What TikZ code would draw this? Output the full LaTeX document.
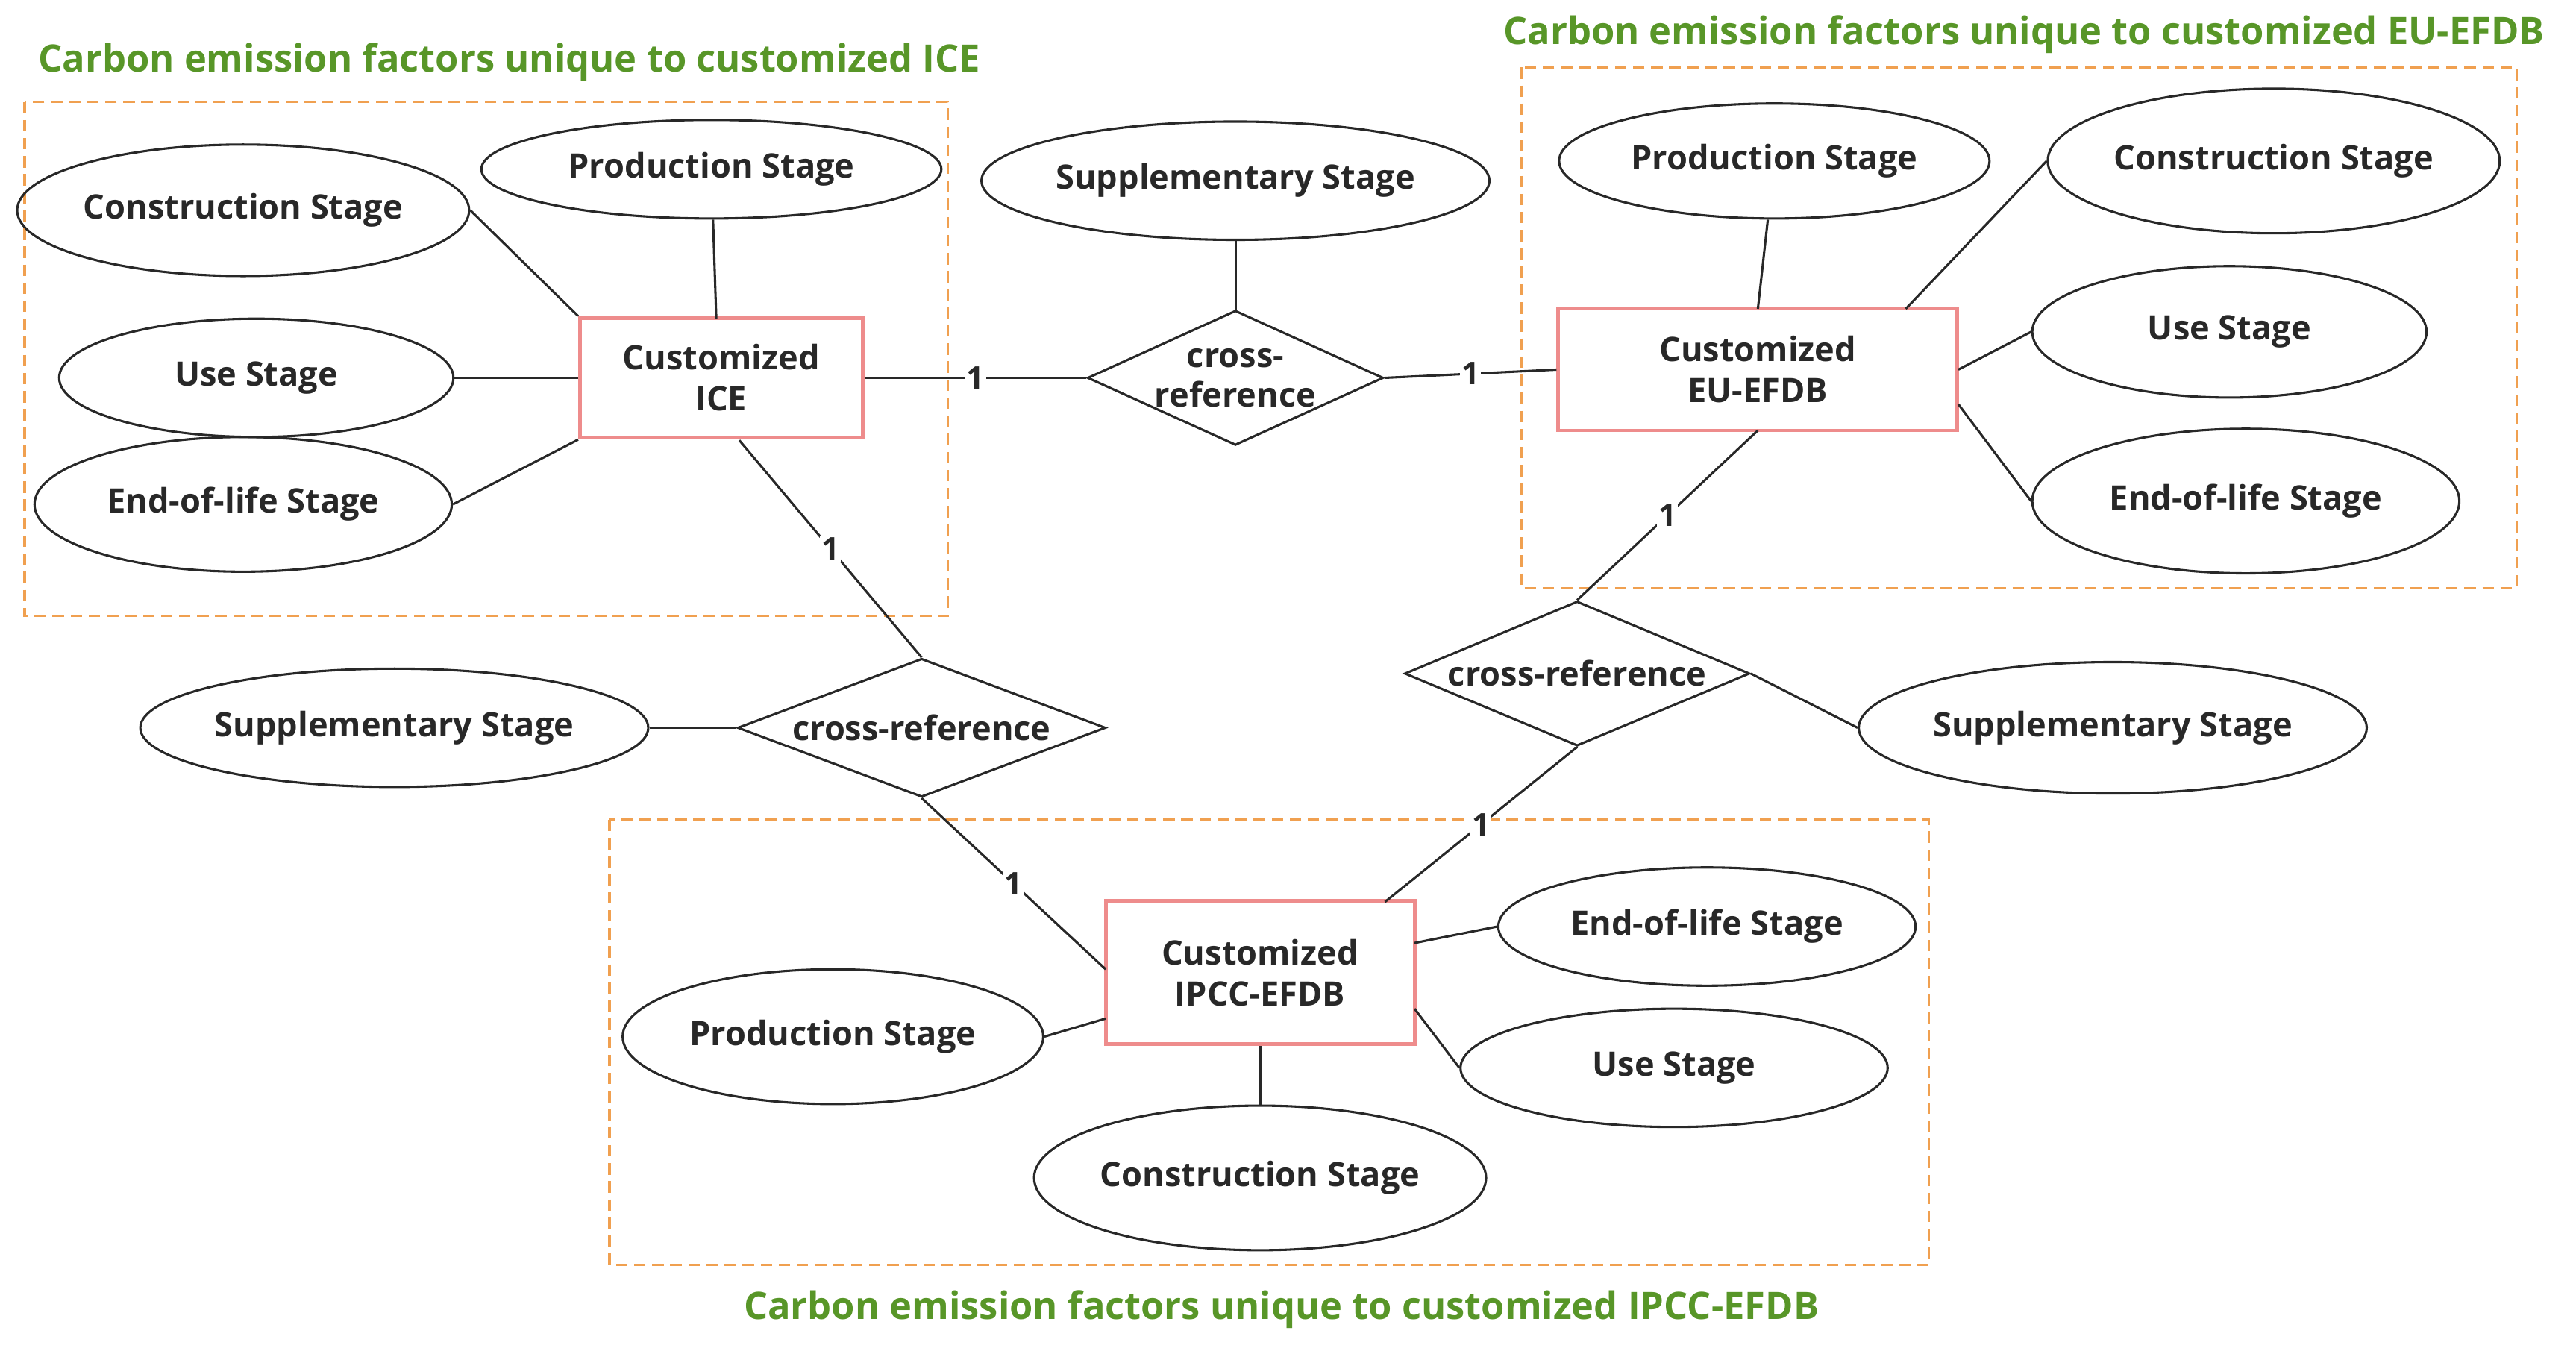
\documentclass[tikz,border=0pt]{standalone}
\usepackage{fontspec}
\setmainfont{Open Sans}
\usetikzlibrary{shapes.geometric}
\definecolor{grn}{RGB}{88,150,40}
\definecolor{org}{RGB}{240,160,80}
\definecolor{pnk}{RGB}{238,140,140}
\definecolor{ink}{RGB}{40,40,40}
\begin{document}
\begin{tikzpicture}[x=1pt,y=-1pt,
 el/.style={ellipse,draw=ink,line width=1.4pt,minimum width=#1,font=\fontsize{20.5}{22}\selectfont\bfseries,text=ink,inner sep=0pt},
 ent/.style={rectangle,draw=pnk,line width=2.2pt,minimum width=#1,font=\fontsize{20.5}{25}\selectfont\bfseries,text=ink,align=center,fill=white},
 dia/.style={diamond,aspect=2.3,draw=ink,line width=1.4pt,font=\fontsize{20.5}{24}\selectfont\bfseries,text=ink,align=center,inner sep=0pt},
 box/.style={draw=org,dashed,line width=1.4pt,dash pattern=on 7pt off 4pt},
 ttl/.style={text=grn,font=\fontsize{23}{26}\selectfont\bfseries},
 ln/.style={draw=ink,line width=1.4pt},
 one/.style={fill=white,inner sep=1pt,font=\fontsize{19}{20}\selectfont\bfseries,text=ink}]
\useasboundingbox (0,0) rectangle (1568,824);
\draw[box] (15,62) rectangle (577,375);
\draw[box] (926,41) rectangle (1532,358);
\draw[box] (371,499) rectangle (1174,770);
\node[ttl] (t1) at (310,38) {Carbon emission factors unique to customized ICE};
\node[ttl] (t2) at (1232,21) {Carbon emission factors unique to customized EU-EFDB};
\node[ttl] (t3) at (780,797) {Carbon emission factors unique to customized IPCC-EFDB};
% entities
\node[ent=172pt,minimum height=73pt] (ice) at (439,230) {Customized\\ICE};
\node[ent=243pt,minimum height=74pt] (eu) at (1070,225) {Customized\\EU-EFDB};
\node[ent=188pt,minimum height=87pt] (ip) at (767,592) {Customized\\IPCC-EFDB};
% ICE ellipses
\node[el=256pt,minimum height=80pt] (ic) at (148,128) {Construction Stage};
\node[el=280pt,minimum height=60pt] (ipr) at (433,103) {Production Stage};
\node[el=240pt,minimum height=72pt] (iu) at (156,230) {Use Stage};
\node[el=254pt,minimum height=82pt] (ie) at (148,307) {End-of-life Stage};
% EU ellipses
\node[el=262pt,minimum height=70pt] (epr) at (1080,98) {Production Stage};
\node[el=260pt,minimum height=88pt] (ec) at (1384,98) {Construction Stage};
\node[el=240pt,minimum height=80pt] (eus) at (1357,202) {Use Stage};
\node[el=260pt,minimum height=88pt] (ee) at (1367,305) {End-of-life Stage};
% IPCC ellipses
\node[el=254pt,minimum height=72pt] (pe) at (1039,564) {End-of-life Stage};
\node[el=260pt,minimum height=72pt] (pu) at (1019,650) {Use Stage};
\node[el=268pt,minimum height=88pt] (pc) at (767,717) {Construction Stage};
\node[el=256pt,minimum height=82pt] (pp) at (507,631) {Production Stage};
% supplementary
\node[el=280pt,minimum height=72pt] (s1) at (752,110) {Supplementary Stage};
\node[el=280pt,minimum height=80pt] (s2) at (1286,443) {Supplementary Stage};
\node[el=280pt,minimum height=72pt] (s3) at (240,443) {Supplementary Stage};
% diamonds
\node[dia,minimum width=170pt,minimum height=82pt] (d1) at (752,230) {cross-\\reference};
\node[dia,minimum width=210pt,minimum height=88pt] (d2) at (960,410) {cross-reference};
\node[dia,minimum width=224pt,minimum height=72pt] (d3) at (561,443) {cross-reference};
% ICE links
\draw[ln] (ic.east) -- (ice.north west);
\draw[ln] (ipr) -- (436,194);
\draw[ln] (iu) -- (ice.west);
\draw[ln] (ie.east) -- (ice.south west);
% EU links
\draw[ln] (epr) -- (1070,188);
\draw[ln] (ec.west) -- (1160,188);
\draw[ln] (eus.west) -- (1192,225);
\draw[ln] (ee.west) -- (1192,246);
% IPCC links
\draw[ln] (pe.west) -- (861,574);
\draw[ln] (pu.west) -- (861,614);
\draw[ln] (pc) -- (ip.south);
\draw[ln] (pp.east) -- (673,620);
% supplementary links
\draw[ln] (s1) -- (d1);
\draw[ln] (s2.west) -- (d2.east);
\draw[ln] (s3) -- (d3.west);
% relationships
\draw[ln] (ice.east) -- node[one,pos=0.5] {1} (d1.west);
\draw[ln] (d1.east) -- node[one,pos=0.5] {1} (eu.west);
\draw[ln] (1070,262) -- node[one] {1} (d2.north);
\draw[ln] (450,268) -- node[one] {1} (d3.north);
\draw[ln] (d3.south) -- node[one] {1} (673,590);
\draw[ln] (d2.south) -- node[one] {1} (843,549);
\end{tikzpicture}
\end{document}
